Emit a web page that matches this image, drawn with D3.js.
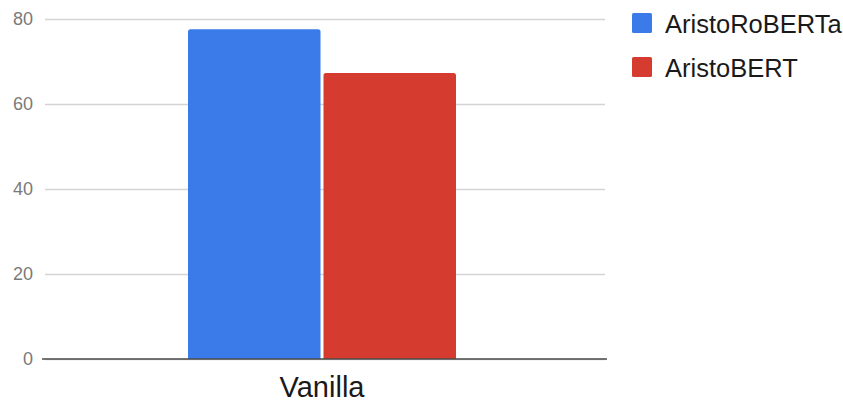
<!DOCTYPE html>
<html>
<head>
<meta charset="utf-8">
<script src="https://cdn.jsdelivr.net/npm/d3@7"></script>
<style>
  html, body { margin: 0; padding: 0; background: #fff; }
  svg { display: block; font-family: "Liberation Sans", Arial, Helvetica, sans-serif; }
</style>
</head>
<body>
<svg id="chart" width="843" height="402"></svg>
<script>
// Data
const categories = ["Vanilla"];
const seriesNames = ["AristoRoBERTa", "AristoBERT"];
const seriesColors = ["#3b7be9", "#d63b2f"];
const aristoRobertaValues = [77.6];
const aristoBertValues = [67.3];
const yTicks = [0, 20, 40, 60, 80];

const seriesValues = [aristoRobertaValues, aristoBertValues];

const svg = d3.select("#chart");
const width = 843, height = 402;
const plot = { left: 45, right: 605, top: 19, bottom: 359 };

const y = d3.scaleLinear()
  .domain([0, 80])
  .range([plot.bottom, plot.top]);

const x0 = d3.scaleBand()
  .domain(categories)
  .range([39, plot.right])
  .paddingInner(0)
  .paddingOuter(0.556);

const x1 = d3.scaleBand()
  .domain(seriesNames)
  .range([0, x0.bandwidth()])
  .paddingInner(0.022);

// Gridlines and y tick labels
const yAxis = d3.axisLeft(y)
  .tickValues(yTicks)
  .tickSize(-(plot.right - plot.left))
  .tickPadding(12)
  .tickFormat(d3.format("d"));

const gy = svg.append("g")
  .attr("transform", `translate(${plot.left},0)`)
  .call(yAxis);
gy.select(".domain").remove();
gy.selectAll(".tick line")
  .attr("stroke", "#d4d4d4")
  .attr("stroke-width", 1.3);
gy.selectAll(".tick text")
  .attr("fill", "#7a7a7a")
  .attr("font-size", 18);

// Bars
const groups = svg.append("g")
  .selectAll("g")
  .data(categories)
  .join("g")
  .attr("transform", d => `translate(${x0(d)},0)`);

groups.selectAll("path")
  .data((c, ci) => seriesNames.map((s, si) => ({ s, si, v: seriesValues[si][ci] })))
  .join("path")
  .attr("fill", d => seriesColors[d.si])
  .attr("d", d => {
    const x = x1(d.s), w = x1.bandwidth();
    const yt = y(d.v), yb = y(0), r = 2.5;
    return `M${x},${yb}V${yt + r}Q${x},${yt} ${x + r},${yt}H${x + w - r}Q${x + w},${yt} ${x + w},${yt + r}V${yb}Z`;
  });

// Baseline
svg.append("line")
  .attr("x1", 42).attr("x2", plot.right + 2)
  .attr("y1", y(0)).attr("y2", y(0))
  .attr("stroke", "#4a4a4a")
  .attr("stroke-width", 1.5);

// X axis label
const xAxis = d3.axisBottom(x0).tickSize(0).tickPadding(17);
const gx = svg.append("g")
  .attr("transform", `translate(0,${y(0)})`)
  .call(xAxis);
gx.select(".domain").remove();
gx.selectAll(".tick text")
  .attr("fill", "#1a1a1a")
  .attr("font-size", 29);

// Legend
const legend = svg.append("g")
  .attr("transform", "translate(632,13)");
const items = legend.selectAll("g")
  .data(seriesNames)
  .join("g")
  .attr("transform", (d, i) => `translate(0,${i * 44})`);
items.append("rect")
  .attr("width", 20).attr("height", 20).attr("rx", 1.5)
  .attr("fill", (d, i) => seriesColors[i]);
items.append("text")
  .attr("x", 33).attr("y", 20)
  .attr("font-size", 25.5)
  .attr("fill", "#1a1a1a")
  .text(d => d);
</script>
</body>
</html>
